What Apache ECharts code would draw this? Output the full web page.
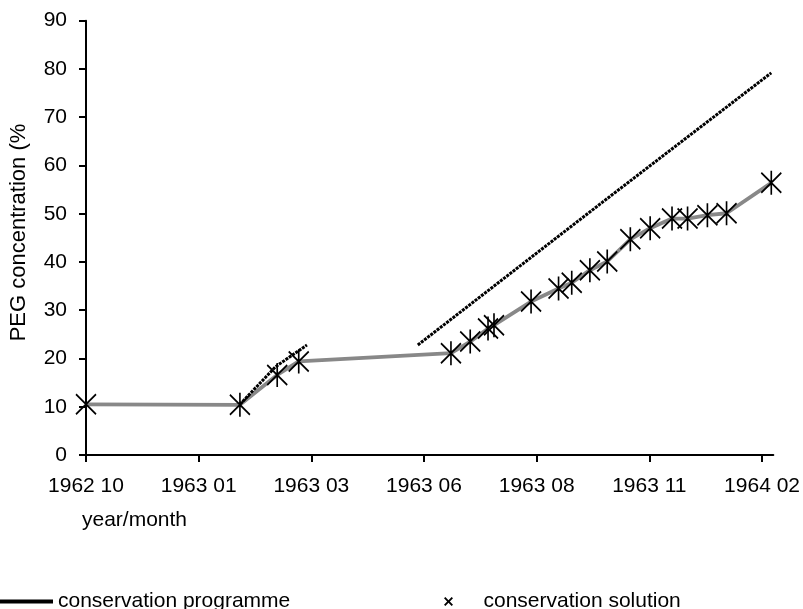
<!DOCTYPE html>
<html>
<head>
<meta charset="utf-8">
<script src="https://cdn.jsdelivr.net/npm/echarts@6/dist/echarts.min.js"></script>
<style>
html,body{margin:0;padding:0;background:#fff;}
#chart{width:803px;height:609px;}
</style>
</head>
<body>
<div id="chart"></div>
<script>
// x positions are in units of the axis' major tick spacing (0 = "1962 10")
var tickLabels = ['1962 10', '1963 01', '1963 03', '1963 06', '1963 08', '1963 11', '1964 02'];

var solutionX = [0, 1.366, 1.697, 1.888, 3.239, 3.41, 3.568, 3.621, 3.95, 4.194, 4.311, 4.472, 4.626, 4.831, 5.007, 5.201, 5.339, 5.515, 5.685, 6.082];
var solutionY = [10.5, 10.4, 16.6, 19.4, 21.1, 23.5, 26.2, 26.9, 31.8, 34.5, 35.7, 38.3, 40.1, 44.7, 47.0, 49.0, 49.0, 49.7, 50.1, 56.4];

var programme1X = [1.366, 1.683, 1.961];
var programme1Y = [10.5, 18.3, 22.8];
var programme2X = [2.945, 4.59, 6.082];
var programme2Y = [22.8, 52.5, 79.2];

function pairs(xs, ys) { return xs.map(function (x, i) { return [x, ys[i]]; }); }

var FONT = "'Liberation Sans', Arial, sans-serif";
var chart = echarts.init(document.getElementById('chart'), null, {renderer: 'canvas'});

var starPath = 'path://M0,2L20,22M0,22L20,2M10,0L10,24';
var xIcon = 'path://M0,1.5L1.5,0L5,3.5L8.5,0L10,1.5L6.5,5L10,8.5L8.5,10L5,6.5L1.5,10L0,8.5L3.5,5Z';

chart.setOption({
  animation: false,
  backgroundColor: '#fff',
  grid: {left: 86, right: 25, top: 20.7, bottom: 154, containLabel: false},
  xAxis: {
    type: 'value', min: 0, max: 6.1, interval: 1,
    axisLine: {show: true, lineStyle: {color: '#000', width: 2}},
    axisTick: {show: true, length: 7, lineStyle: {color: '#000', width: 2}},
    splitLine: {show: false},
    axisLabel: {
      color: '#000', fontFamily: FONT, fontSize: 21, margin: 21,
      showMaxLabel: false,
      formatter: function (v) { var i = Math.round(v); return Math.abs(v - i) < 1e-6 && tickLabels[i] ? tickLabels[i] : ''; }
    }
  },
  yAxis: {
    type: 'value', min: 0, max: 90, interval: 10,
    axisLine: {show: true, lineStyle: {color: '#000', width: 2}},
    axisTick: {show: true, length: 7, lineStyle: {color: '#000', width: 2}},
    splitLine: {show: false},
    axisLabel: {color: '#000', fontFamily: FONT, fontSize: 21, margin: 19}
  },
  legend: [
    {
      left: -2, top: 591, padding: 0, itemWidth: 55, itemHeight: 4, icon: 'rect',
      itemStyle: {color: '#000', borderWidth: 0},
      textStyle: {color: '#000', fontFamily: FONT, fontSize: 21},
      data: ['conservation programme']
    },
    {
      left: 444, top: 591, padding: 0, itemWidth: 60, itemHeight: 9, icon: xIcon,
      itemStyle: {color: '#000', borderWidth: 0},
      textStyle: {color: '#000', fontFamily: FONT, fontSize: 21},
      data: ['conservation solution']
    }
  ],
  graphic: [
    {type: 'text', left: 82, top: 510, style: {text: 'year/month', font: '21px ' + FONT, fill: '#000'}},
    {type: 'text', x: 19, y: 232.5, rotation: Math.PI / 2,
     style: {text: 'PEG concentration (%', font: '22px ' + FONT, fill: '#000', align: 'center', verticalAlign: 'middle'}}
  ],
  series: [
    {
      name: 'conservation solution', type: 'line', z: 2,
      data: pairs(solutionX, solutionY),
      symbol: starPath, symbolSize: [20, 24], symbolKeepAspect: false,
      itemStyle: {color: '#000', borderColor: '#000', borderWidth: 1.8},
      lineStyle: {color: '#888888', width: 3.8}
    },
    {
      name: 'conservation programme', type: 'line', z: 3,
      data: pairs(programme1X, programme1Y), showSymbol: false,
      itemStyle: {color: '#000'},
      lineStyle: {color: '#000', width: 3, type: [3, 1]}
    },
    {
      name: 'conservation programme', type: 'line', z: 3,
      data: pairs(programme2X, programme2Y), showSymbol: false,
      itemStyle: {color: '#000'},
      lineStyle: {color: '#000', width: 3, type: [3, 1]}
    }
  ]
});
</script>
</body>
</html>
